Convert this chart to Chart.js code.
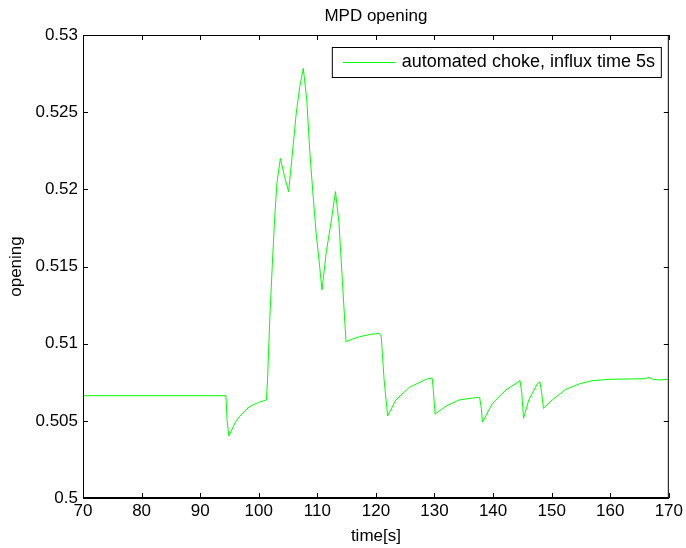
<!DOCTYPE html>
<html lang="en">
<head>
  <meta charset="UTF-8">
  <title>MPD opening</title>
  <script src="https://cdn.jsdelivr.net/npm/chart.js"></script>
  <style>
    body {
      margin: 0;
      padding: 0;
      background-color: #fff;
    }
    .chart-container {
      position: relative;
      width: 686px;
      height: 548px;
    }
  </style>
</head>
<body>
  <div class="chart-container">
    <canvas id="mpdChart"></canvas>
  </div>

  <script>
    // time [s]
    const times = [
      70, 94.4, 94.6, 94.9, 96.0, 96.7, 98.4, 100.0, 101.3,
      101.5, 101.9, 102.3, 102.7, 103.1, 103.7, 104.4, 105.1,
      105.8, 106.4, 107.0, 107.6, 108.2, 108.7, 109.2, 109.8,
      110.4, 110.8, 111.5, 112.4, 113.1, 113.7, 114.2, 114.7,
      114.9, 116.0, 117.2, 119.0, 120.6, 120.9, 121.4, 122.0,
      123.4, 125.7, 128.6, 129.6, 129.8, 130.1, 132.0, 134.2,
      136.5, 137.7, 138.0, 138.2, 139.9, 142.2, 144.6, 144.9,
      145.2, 146.1, 147.6, 148.0, 148.3, 148.6, 150.1, 152.4,
      154.7, 156.9, 159.8, 166.0, 166.6, 167.2, 168.3, 170
    ];

    // choke opening
    const opening = [
      0.50663, 0.50663, 0.50500, 0.50402, 0.50490, 0.50527, 0.50592, 0.50620, 0.50635,
      0.50765, 0.51175, 0.51499, 0.51801, 0.52039, 0.52201, 0.52082, 0.51985,
      0.52255, 0.52493, 0.52665, 0.52784, 0.52579, 0.52255, 0.51996, 0.51715,
      0.51499, 0.51348, 0.51586, 0.51801, 0.51985, 0.51780, 0.51456, 0.51132,
      0.51013, 0.51030, 0.51045, 0.51060, 0.51067, 0.51050, 0.50765, 0.50531,
      0.50635, 0.50717, 0.50769, 0.50778, 0.50700, 0.50544, 0.50596, 0.50635,
      0.50648, 0.50652, 0.50580, 0.50492, 0.50614, 0.50700, 0.50760, 0.50680,
      0.50516, 0.50635, 0.50743, 0.50752, 0.50680, 0.50581, 0.50635, 0.50704,
      0.50739, 0.50760, 0.50769, 0.50773, 0.50782, 0.50770, 0.50765, 0.50769
    ];

    const seriesLabel = "automated choke, influx time 5s";
    const chartTitle = "MPD opening";

    const FONT = "'Liberation Sans', Arial, sans-serif";

    // matlab style box, inward ticks, title and legend
    const matlabPlugin = {
      id: "matlabBox",
      afterDraw(chart) {
        const ctx = chart.ctx;
        const area = chart.chartArea;
        const xs = chart.scales.x;
        const ys = chart.scales.y;
        const tl = 5;
        ctx.save();
        ctx.strokeStyle = "#000";
        ctx.lineWidth = 1;
        ctx.strokeRect(area.left + 0.5, area.top + 0.5, area.right - area.left - 1, area.bottom - area.top - 1);
        ctx.beginPath();
        xs.ticks.forEach(t => {
          const px = Math.round(xs.getPixelForValue(t.value)) + 0.5;
          ctx.moveTo(px, area.bottom);
          ctx.lineTo(px, area.bottom - tl);
          ctx.moveTo(px, area.top);
          ctx.lineTo(px, area.top + tl);
        });
        ys.ticks.forEach(t => {
          const py = Math.round(ys.getPixelForValue(t.value)) + 0.5;
          ctx.moveTo(area.left, py);
          ctx.lineTo(area.left + tl, py);
          ctx.moveTo(area.right, py);
          ctx.lineTo(area.right - tl, py);
        });
        ctx.stroke();

        // title
        ctx.fillStyle = "#000";
        ctx.font = "17px " + FONT;
        ctx.textAlign = "center";
        ctx.textBaseline = "middle";
        ctx.fillText(chartTitle, (area.left + area.right) / 2, 16);

        // legend
        const lx1 = area.right - 337;
        const lx2 = area.right - 8;
        const ly1 = area.top + 12;
        const ly2 = area.top + 42;
        ctx.fillStyle = "#fff";
        ctx.fillRect(lx1, ly1, lx2 - lx1, ly2 - ly1);
        ctx.strokeStyle = "#000";
        ctx.strokeRect(lx1 + 0.5, ly1 + 0.5, lx2 - lx1, ly2 - ly1);
        const ds = chart.data.datasets[0];
        const my = Math.round((ly1 + ly2) / 2) + 0.5;
        ctx.strokeStyle = ds.borderColor;
        ctx.beginPath();
        ctx.moveTo(lx1 + 11, my);
        ctx.lineTo(lx1 + 64, my);
        ctx.stroke();
        ctx.fillStyle = "#000";
        ctx.font = "18px " + FONT;
        ctx.textAlign = "left";
        ctx.fillText(ds.label, lx1 + 70, my);
        ctx.restore();
      }
    };

    new Chart(document.getElementById("mpdChart"), {
      type: "line",
      data: {
        datasets: [{
          label: seriesLabel,
          data: times.map((t, i) => ({ x: t, y: opening[i] })),
          borderColor: "#00ff00",
          borderWidth: 1,
          pointRadius: 0,
          tension: 0,
          fill: false
        }]
      },
      options: {
        responsive: true,
        maintainAspectRatio: false,
        animation: false,
        layout: { padding: { top: 35, right: 16, left: 0, bottom: 0 } },
        plugins: {
          legend: { display: false },
          title: { display: false },
          tooltip: { enabled: false }
        },
        scales: {
          x: {
            type: "linear",
            min: 70,
            max: 170,
            afterFit: s => { s.height = 50; },
            grid: { display: false, drawTicks: false },
            border: { display: true, color: "#000" },
            ticks: {
              stepSize: 10,
              padding: 3,
              color: "#000",
              maxRotation: 0,
              font: { family: FONT, size: 17 }
            },
            title: {
              display: true,
              text: "time[s]",
              color: "#000",
              font: { family: FONT, size: 17 },
              padding: { top: 0, bottom: 1 }
            }
          },
          y: {
            type: "linear",
            min: 0.5,
            max: 0.53,
            afterFit: s => { s.width = 83; },
            grid: { display: false, drawTicks: false },
            border: { display: true, color: "#000" },
            ticks: {
              stepSize: 0.005,
              padding: 5,
              color: "#000",
              font: { family: FONT, size: 17 },
              callback: v => String(+v.toFixed(3))
            },
            title: {
              display: true,
              text: "opening",
              color: "#000",
              font: { family: FONT, size: 17 },
              padding: { top: 6, bottom: 0 }
            }
          }
        }
      },
      plugins: [matlabPlugin]
    });
  </script>
</body>
</html>
